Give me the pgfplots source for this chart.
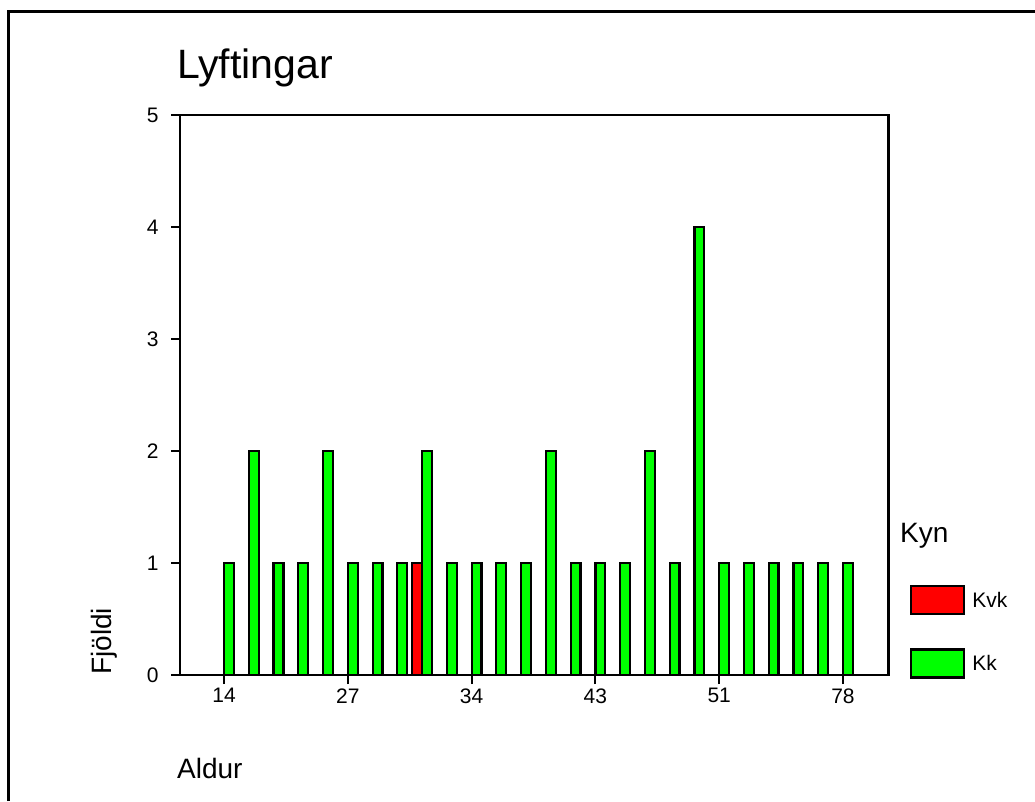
\documentclass[border=0pt]{standalone}
\usepackage{fontspec}
\setmainfont{Liberation Sans}
\usepackage{pgfplots}
\pgfplotsset{compat=1.18}
\definecolor{kvk}{RGB}{255,0,0}
\definecolor{kk}{RGB}{0,255,0}

\pgfplotsset{
  boxlegend/.style={legend image code/.code={%
    \draw[##1,draw=black,line width=2.2pt] (0pt,-14pt) rectangle (53pt,14pt);}},
}

\begin{document}
\begin{tikzpicture}[x=1pt,y=1pt]
\path[use as bounding box] (0,0) rectangle (1035,801);
% outer frame, only top and left edges show in the crop
\draw[line width=2.5pt] (8.5,0) -- (8.5,789.5) -- (1035,789.5);

\begin{axis}[
  at={(180pt,126pt)}, anchor=south west,
  scale only axis, width=708.5pt, height=560pt,
  xmin=-1.78, xmax=26.84, ymin=0, ymax=5,
  ytick={0,...,5},
  xtick={0,5,10,15,20,25},
  xticklabels={14,27,34,43,51,78},
  tick pos=left, tick align=outside,
  major tick length=9pt,
  axis line style={line width=2.5pt},
  tick style={line width=2pt, black},
  ticklabel style={font=\fontsize{21}{25}\selectfont},
  yticklabel style={xshift=-9pt},
  xticklabel style={yshift=-1pt},
  /pgf/number format/assume math mode=true,
  ybar, bar width=0.4,
  legend style={draw=none, fill=none, inner sep=0pt,
    at={(axis description cs:1.0303,0.1607)}, anchor=north west,
    row sep=33pt, column sep=7pt,
    font=\fontsize{21}{25}\selectfont,
    nodes={inner sep=0pt}},
  legend cell align=left,
]
% Kvk
\addplot[fill=kvk, draw=black, line width=2.2pt, bar shift=-0.2, boxlegend]
  coordinates {(8,1)};
\addlegendentry{Kvk}
% Kk
\addplot[fill=kk, draw=black, line width=2.2pt, bar shift=0.2, boxlegend]
  coordinates {
    (0,1) (1,2) (2,1) (3,1) (4,2) (5,1) (6,1) (7,1) (8,2) (9,1)
    (10,1) (11,1) (12,1) (13,2) (14,1) (15,1) (16,1) (17,2) (18,1) (19,4)
    (20,1) (21,1) (22,1) (23,1) (24,1) (25,1)};
\addlegendentry{Kk}
\end{axis}

\node[anchor=base west, inner sep=0pt, font=\fontsize{41}{49}\selectfont] at (177,722) {Lyftingar};
\node[anchor=base west, inner sep=0pt, font=\fontsize{28}{34}\selectfont] at (900,259) {Kyn};
\node[anchor=base west, inner sep=0pt, rotate=90, font=\fontsize{28}{34}\selectfont] at (111,126) {Fjöldi};
\node[anchor=base west, inner sep=0pt, font=\fontsize{28}{34}\selectfont] at (177,23) {Aldur};
\end{tikzpicture}
\end{document}
